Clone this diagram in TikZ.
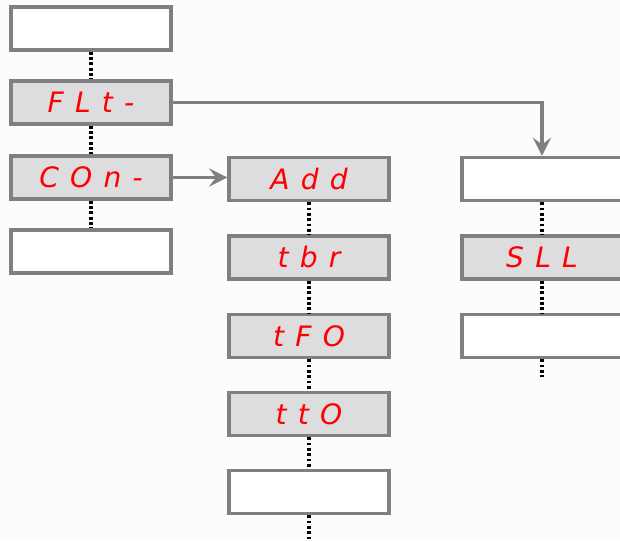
\documentclass[tikz,border=0pt]{standalone}
\usepackage{xcolor}
\usepackage{fontspec}
\usepackage{tikz}
\usetikzlibrary{arrows.meta,positioning}
\newfontfamily\segfont{DejaVu Sans Oblique}[LetterSpace=40]
\definecolor{frame}{RGB}{128,128,128}
\definecolor{panel}{RGB}{221,220,223}
\definecolor{digit}{RGB}{255,0,0}

\begin{document}
\begin{tikzpicture}[x=0.025cm, y=-0.025cm,
    menu/.style={rectangle, draw=frame, line width=2.4pt, minimum width=4cm, minimum height=1.075cm, inner sep=0pt, fill=white},
    param/.style={menu, fill=panel, text=digit, font=\segfont\fontsize{20}{20}\selectfont},
    link/.style={draw=black, line width=2.6pt, dash pattern=on 2pt off 1.8pt},
    jump/.style={draw=frame, line width=2.2pt, -{Stealth[length=13pt, width=13pt, inset=5pt]}}
]
    \useasboundingbox (0,0) rectangle (620,541);
    \fill[white!99!black] (0,0) rectangle (620,541);

    % main menu
    \node[menu] (m1) at (91,28.5) {};
    \node[param] (flt) at (91,102.5) {FLt-};
    \node[param] (con) at (91,177.5) {COn-};
    \node[menu] (m4) at (91,251.5) {};

    % configuration submenu
    \node[param] (add) at (309,179) {Add};
    \node[param] (tbr) at (309,257.5) {tbr};
    \node[param] (tfo) at (309,336) {tFO};
    \node[param] (tto) at (309,414) {ttO};
    \node[menu] (c5) at (309,492) {};
    \coordinate (cend) at (309,541);

    % filter submenu
    \node[menu] (f1) at (542,179) {};
    \node[param] (sll) at (542,257.5) {SLL};
    \node[menu] (f3) at (542,336) {};
    \coordinate (fend) at (542,377);

    \draw[link] (m1) -- (flt);
    \draw[link] (flt) -- (con);
    \draw[link] (con) -- (m4);
    \draw[link] (add) -- (tbr);
    \draw[link] (tbr) -- (tfo);
    \draw[link] (tfo) -- (tto);
    \draw[link] (tto) -- (c5);
    \draw[link] (c5) -- (cend);
    \draw[link] (f1) -- (sll);
    \draw[link] (sll) -- (f3);
    \draw[link] (f3) -- (fend);

    \draw[jump] (flt.east) -| (f1.north);
    \draw[jump] (con.east) -- (con.east -| add.west);
\end{tikzpicture}
\end{document}
